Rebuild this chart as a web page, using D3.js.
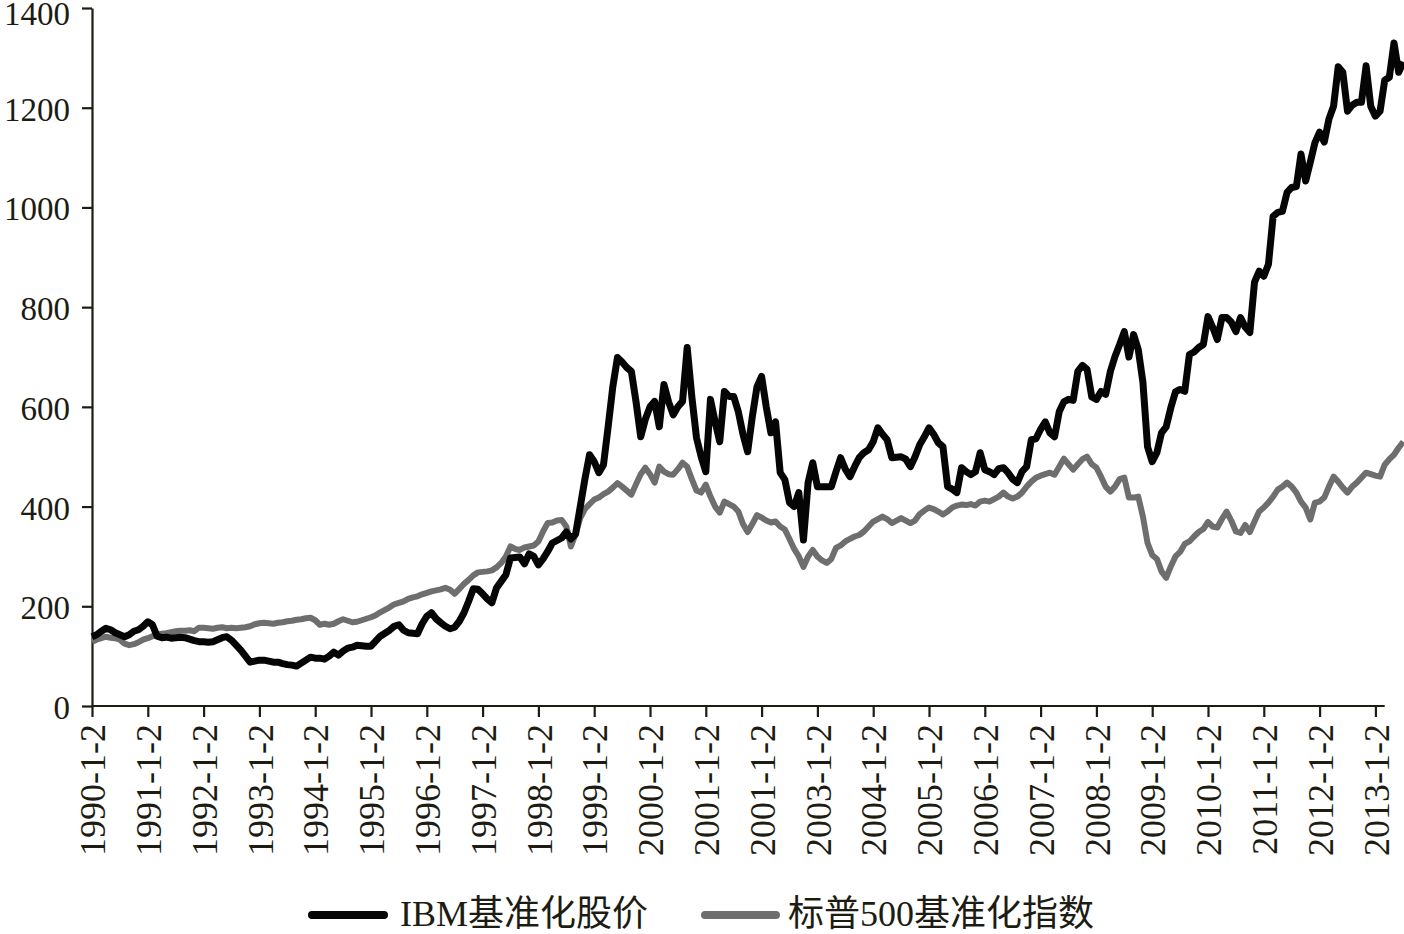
<!DOCTYPE html>
<html>
<head>
<meta charset="utf-8">
<script src="https://d3js.org/d3.v7.min.js"></script>
<style>
  body { margin: 0; background: #fff; }
  svg { display: block; }
</style>
</head>
<body>
<div id="chart"></div>
<script>
// x axis category labels, one every 12 months (the source repeats 2001-1-2)
var tickLabels = ["1990-1-2", "1991-1-2", "1992-1-2", "1993-1-2", "1994-1-2", "1995-1-2",
    "1996-1-2", "1997-1-2", "1998-1-2", "1999-1-2", "2000-1-2", "2001-1-2", "2001-1-2",
    "2003-1-2", "2004-1-2", "2005-1-2", "2006-1-2", "2007-1-2", "2008-1-2", "2009-1-2",
    "2010-1-2", "2011-1-2", "2012-1-2", "2013-1-2"];

var yTicks = [0, 200, 400, 600, 800, 1000, 1200, 1400];

var seriesNames = ["IBM基准化股价", "标普500基准化指数"];

// monthly values, Jan 1990 onwards
var ibm = [
  139, 143, 150, 156, 153, 147, 143, 139, 143, 150, 153, 160,   // 1990
  169, 163, 140, 137, 138, 136, 137, 138, 137, 134, 131, 129,   // 1991
  129, 128, 129, 133, 137, 139, 132, 122, 112, 100, 88, 90,     // 1992
  92, 92, 90, 88, 88, 85, 83, 82, 80, 86, 92, 98,               // 1993
  96, 96, 94, 100, 108, 102, 110, 116, 118, 122, 121, 120,      // 1994
  120, 130, 140, 146, 152, 160, 163, 152, 147, 146, 145, 165,   // 1995
  180, 187, 175, 167, 160, 155, 158, 170, 187, 210, 235, 234,   // 1996
  225, 215, 207, 237, 250, 263, 297, 298, 299, 285, 305, 300,   // 1997
  283, 295, 310, 327, 332, 337, 349, 335, 345, 400, 455, 504,   // 1998
  490, 468, 484, 560, 640, 699, 690, 679, 671, 610, 540, 575,   // 1999
  600, 611, 560, 645, 610, 584, 600, 611, 719, 620, 538, 500,   // 2000
  470, 615, 570, 530, 631, 621, 621, 590, 545, 510, 580, 640,   // 2001
  661, 600, 548, 570, 468, 454, 408, 400, 428, 333, 448, 488,   // 2002
  440, 440, 440, 440, 470, 498, 475, 460, 480, 498, 508, 514,   // 2003
  530, 558, 545, 534, 498, 499, 500, 495, 480, 500, 524, 540,   // 2004
  558, 545, 528, 520, 440, 435, 428, 478, 470, 464, 470, 508,   // 2005
  474, 470, 464, 476, 478, 468, 455, 448, 470, 480, 534, 536,   // 2006
  555, 570, 548, 540, 590, 610, 615, 613, 671, 683, 675, 620,   // 2007
  615, 631, 625, 671, 701, 725, 751, 700, 745, 715, 650, 520,   // 2008
  490, 508, 548, 560, 598, 630, 635, 631, 705, 710, 719, 725,   // 2009
  781, 760, 735, 779, 779, 770, 751, 779, 760, 749, 850, 872,   // 2010
  862, 886, 982, 990, 992, 1030, 1040, 1042, 1107, 1053, 1091, 1130, // 2011
  1151, 1131, 1177, 1203, 1282, 1271, 1193, 1205, 1211, 1211, 1284, 1203, // 2012
  1183, 1193, 1255, 1261, 1330, 1271, 1292                      // 2013
];

var spx = [
  129, 133, 136, 139, 137, 136, 133, 125, 122, 124, 128, 133,   // 1990
  136, 140, 143, 145, 146, 148, 150, 151, 151, 152, 150, 157,   // 1991
  157, 156, 155, 157, 158, 156, 157, 156, 157, 158, 160, 164,   // 1992
  166, 167, 166, 165, 167, 168, 170, 171, 173, 174, 176, 177,   // 1993
  172, 163, 165, 163, 165, 170, 174, 171, 168, 169, 172, 175,   // 1994
  178, 182, 188, 193, 198, 204, 207, 210, 215, 218, 220, 224,   // 1995
  227, 230, 232, 234, 237, 233, 225, 235, 245, 253, 262, 268,   // 1996
  269, 270, 272, 278, 287, 300, 320, 315, 313, 318, 320, 322,   // 1997
  330, 350, 367, 368, 372, 373, 360, 320, 345, 377, 395, 405,   // 1998
  414, 418, 425, 430, 438, 447, 440, 432, 424, 445, 465, 478,   // 1999
  465, 448, 480, 470, 465, 464, 475, 488, 480, 455, 432, 428,   // 2000
  444, 420, 400, 388, 410, 405, 400, 390, 365, 349, 365, 383,   // 2001
  378, 372, 368, 370, 360, 354, 335, 315, 300, 279, 300, 313,   // 2002
  300, 292, 287, 295, 317, 322, 330, 335, 340, 343, 350, 360,   // 2003
  370, 375, 380, 375, 367, 372, 377, 372, 367, 372, 385, 392,   // 2004
  398, 395, 390, 384, 390, 398, 402, 404, 403, 405, 402, 410,   // 2005
  412, 410, 415, 420, 428, 420, 416, 420, 428, 440, 450, 458,   // 2006
  462, 465, 468, 464, 480, 496, 485, 474, 485, 495, 500, 485,   // 2007
  478, 460, 440, 430, 440, 455, 458, 418, 418, 420, 380, 327,   // 2008
  303, 295, 270, 257, 280, 300, 309, 325, 330, 340, 349, 355,   // 2009
  369, 360, 358, 375, 390, 372, 350, 347, 363, 349, 370, 390,   // 2010
  398, 408, 420, 434, 440, 448, 440, 428, 410, 398, 374, 408,   // 2011
  410, 418, 440, 460, 450, 438, 428, 440, 448, 458, 468, 465,   // 2012
  462, 460, 484, 495, 504, 518, 530                             // 2013
];

var svgW = 1404, svgH = 934;
var plotLeft = 92, plotTop = 8, plotBottom = 706;
var monthW = 4.65;

var svg = d3.select("#chart")
    .append("svg")
    .attr("width", svgW)
    .attr("height", svgH);

var x = d3.scaleLinear()
    .domain([0, ibm.length - 1])
    .range([plotLeft, plotLeft + (ibm.length - 1) * monthW]);

var y = d3.scaleLinear()
    .domain([0, 1400])
    .range([plotBottom, plotTop]);

var ink = "#1c1c12";
var serif = "'Liberation Serif', 'Times New Roman', 'Noto Sans CJK SC', serif";

// y axis
var yAxis = svg.append("g")
    .attr("transform", "translate(" + plotLeft + ",0)")
    .call(d3.axisLeft(y).tickValues(yTicks).tickSize(10).tickPadding(12).tickSizeOuter(0)
        .tickFormat(d3.format("d")));
yAxis.select(".domain").attr("stroke", ink).attr("stroke-width", 2.2);
yAxis.selectAll(".tick line").attr("stroke", ink).attr("stroke-width", 2.2);
yAxis.selectAll(".tick text")
    .attr("fill", ink)
    .attr("y", function(d) { return d === 1400 ? 6 : 2; })
    .style("font-family", serif)
    .style("font-size", "33px");

// x axis, a tick every 12 months
var tickIdx = tickLabels.map(function(d, i) { return i * 12; });
var xAxis = svg.append("g")
    .attr("transform", "translate(0," + plotBottom + ")")
    .call(d3.axisBottom(x).tickValues(tickIdx).tickSize(11).tickSizeOuter(0)
        .tickFormat(function(d, i) { return tickLabels[i]; }));
xAxis.select(".domain").remove();
xAxis.append("line")
    .attr("x1", plotLeft).attr("x2", x(278))
    .attr("y1", 0).attr("y2", 0)
    .attr("stroke", ink).attr("stroke-width", 2.2);
xAxis.selectAll(".tick line").attr("stroke", ink).attr("stroke-width", 2.2);
xAxis.selectAll(".tick text")
    .attr("transform", "rotate(-90)")
    .attr("x", -18)
    .attr("y", 0)
    .attr("dy", "0.35em")
    .attr("fill", ink)
    .style("text-anchor", "end")
    .style("font-family", serif)
    .style("font-size", "36px");

// lines
var line = d3.line()
    .x(function(d, i) { return x(i); })
    .y(function(d) { return y(d); });

svg.append("path")
    .datum(spx)
    .attr("fill", "none")
    .attr("stroke", "#6e6e6e")
    .attr("stroke-width", 6)
    .attr("stroke-linejoin", "round")
    .attr("d", line);

svg.append("path")
    .datum(ibm)
    .attr("fill", "none")
    .attr("stroke", "#050505")
    .attr("stroke-width", 7)
    .attr("stroke-linejoin", "round")
    .attr("d", line);

// legend
var legend = [
    {name: seriesNames[0], color: "#050505", x1: 312, x2: 384, tx: 400},
    {name: seriesNames[1], color: "#6e6e6e", x1: 705, x2: 776, tx: 788}
];
var lg = svg.append("g");
lg.selectAll("line")
    .data(legend)
    .enter()
    .append("line")
    .attr("x1", function(d) { return d.x1; })
    .attr("x2", function(d) { return d.x2; })
    .attr("y1", 915).attr("y2", 915)
    .attr("stroke", function(d) { return d.color; })
    .attr("stroke-width", 8)
    .attr("stroke-linecap", "round");
lg.selectAll("text")
    .data(legend)
    .enter()
    .append("text")
    .attr("x", function(d) { return d.tx; })
    .attr("y", 926)
    .attr("fill", ink)
    .style("font-family", serif)
    .style("font-size", "36px")
    .text(function(d) { return d.name; });
</script>
</body>
</html>
